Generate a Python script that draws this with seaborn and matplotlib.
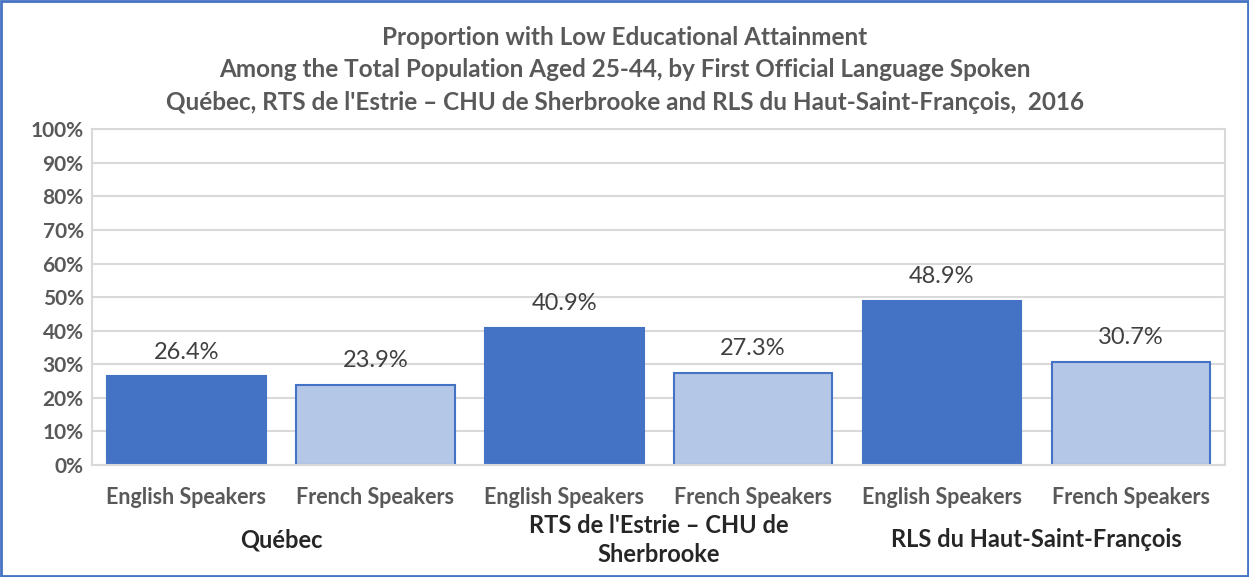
import matplotlib
matplotlib.use("Agg")
import matplotlib.pyplot as plt
import matplotlib.transforms as mtransforms
from matplotlib.patches import Rectangle
import seaborn as sns
import pandas as pd

regions = ["Québec", "RTS de l'Estrie – CHU de\nSherbrooke", "RLS du Haut-Saint-François"]
speakers = ["English Speakers", "French Speakers"]
english_vals = [26.4, 40.9, 48.9]
french_vals = [23.9, 27.3, 30.7]

rows = []
for i, reg in enumerate(regions):
    rows.append({"bar": f"{i}-en", "region": reg, "speaker": speakers[0], "value": english_vals[i]})
    rows.append({"bar": f"{i}-fr", "region": reg, "speaker": speakers[1], "value": french_vals[i]})
df = pd.DataFrame(rows)

sns.set_theme(style="white")
plt.rcParams['font.family'] = ['Lato', 'DejaVu Sans']

fig = plt.figure(figsize=(12.49, 5.77), dpi=100)
ax = fig.add_axes([0.0737, 0.194, 0.9073, 0.582])

dark = "#4472C4"
light = "#B4C7E7"
sns.barplot(data=df, x="bar", y="value", hue="speaker", palette=[dark, light], saturation=1,
            dodge=False, width=0.84, legend=False, ax=ax, edgecolor=dark, linewidth=1.5)

ax.set_ylim(0, 100)
ax.set_xlim(-0.5, len(df) - 0.5)
ax.set_yticks(range(0, 101, 10))
ax.set_yticklabels([f"{v}%" for v in range(0, 101, 10)], fontsize=15, fontweight="bold", color="#595959")
ax.set_xticks(range(len(df)))
ax.set_xticklabels(df["speaker"], fontsize=15.5, fontweight="bold", color="#595959")
ax.tick_params(axis="x", length=0, pad=16)
ax.tick_params(axis="y", length=0, pad=6)
ax.set_xlabel("")
ax.set_ylabel("")
ax.yaxis.grid(True, color="#D9D9D9", linewidth=1.5)
ax.set_axisbelow(True)
for sp in ax.spines.values():
    sp.set_visible(True)
    sp.set_color("#D9D9D9")
    sp.set_linewidth(1.5)

for cont in ax.containers:
    ax.bar_label(cont, fmt="%.1f%%", padding=10, fontsize=17, color="#404040")

trans = mtransforms.blended_transform_factory(ax.transData, ax.transAxes)
for i, reg in enumerate(regions):
    ax.text(2 * i + 0.5, -0.223, reg, transform=trans, ha="center", va="center",
            fontsize=17, fontweight="bold", color="#262626", linespacing=1.35)

fig.suptitle("Proportion with Low Educational Attainment\n"
             "Among the Total Population Aged 25-44, by First Official Language Spoken\n"
             "Québec, RTS de l'Estrie – CHU de Sherbrooke and RLS du Haut-Saint-François,  2016",
             y=0.955, fontsize=17.5, fontweight="bold", color="#595959", linespacing=1.5)

fig.patches.append(Rectangle((0.001, 0.002), 0.998, 0.996, transform=fig.transFigure,
                             fill=False, edgecolor="#4472C4", linewidth=2))

fig.savefig("out.png", dpi=100)
